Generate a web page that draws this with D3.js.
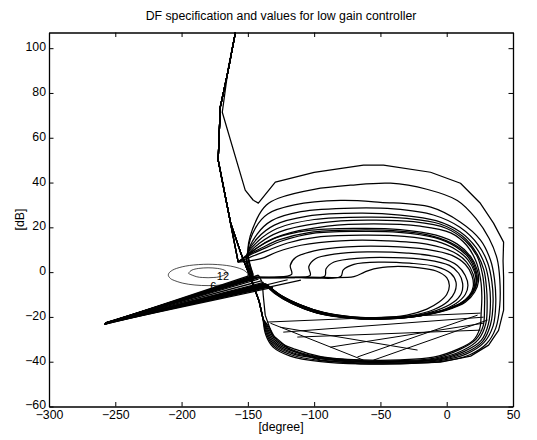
<!DOCTYPE html>
<html>
<head>
<meta charset="utf-8">
<script src="https://cdn.jsdelivr.net/npm/d3@7"></script>
<style>
  body { margin: 0; background: #fff; }
  text { font-family: "Liberation Sans", Arial, Helvetica, sans-serif; }
</style>
</head>
<body>
<div id="chart"></div>
<script>
// axis ticks
const xTicks = [-300, -250, -200, -150, -100, -50, 0, 50];
const yTicks = [-60, -40, -20, 0, 20, 40, 60, 80, 100];

// [phase deg, gain dB]
const entryTop = [[-159, 110], [-159.5, 106.7], [-164.8, 90.2], [-170.8, 73.7], [-172.4, 50]];
const entryOuter = [[-159, 110], [-159.5, 106.7], [-164.8, 91], [-169.3, 71.4], [-152, 36.6], [-145.9, 32.1]];
const entryJunction = [[-172.4, 50], [-157.3, 4.5]];
const entrySteep = [[-172.4, 50], [-163, 22], [-155, 8], [-147, -4], [-141.5, -13], [-138.5, -21]];

// outermost loop (reaches -41 dB, top ~48 dB)
const loopOuter = [[-145.9, 32.1], [-142.1, 30.8], [-129.3, 40.2], [-100, 44.5], [-62.8, 47.8], [-47.7, 47.8], [-12.2, 44.6],
  [10.4, 39.7], [25, 31], [35.3, 21.9], [42.9, 13.4], [42.5, 5], [42.9, -2.3], [42.9, -17], [39.1, -26],
  [31.6, -32.6], [18, -37.5], [-4.7, -40.2], [-34.9, -41], [-65.1, -41], [-95.3, -39.3], [-118, -34.8],
  [-131.6, -28], [-136.9, -19.2], [-138.4, -10.3], [-139.1, -4.5], [-142.1, -1.3]];

// lower loops (bottom near -40 dB)
const loopsLow = [
  [[-138.5, -21], [-136.5, -28], [-131, -33.5], [-118, -37.5], [-95, -40], [-65, -41], [-35, -40.8], [-5, -40], [17, -37], [30, -32],
   [37, -25], [40, -15], [40, -3], [38, 6], [32, 15], [22, 24], [8, 32], [-15, 37], [-42.4, 39.7], [-72.7, 38.8],
   [-100, 37], [-127, 33], [-136, 30], [-143, 24], [-150, 10], [-146, -1]],
  [[-138.5, -21], [-136, -27.5], [-130.5, -33], [-117, -37], [-95, -39.5], [-65, -40.5], [-35, -40.5], [-5, -39.5], [15, -36.5],
   [28, -31.5], [35, -24], [37, -14], [36, -3], [33, 5.4], [25.5, 14.3], [10.4, 22.3], [-12, 29], [-50, 31.2],
   [-80, 32], [-115, 30], [-135, 26], [-144, 20], [-150, 9], [-146, -1.5]],
  [[-138.5, -21], [-135.5, -27], [-130, -32.5], [-116, -36.5], [-95, -38.7], [-65, -40.2], [-35, -40.2], [-6, -39.2], [14, -36],
   [27, -31], [33, -23.5], [35, -13], [34, -4], [31, 4], [24, 12], [10, 20], [-10, 25.5], [-40, 28.2], [-70, 28.6],
   [-110, 27], [-132, 23], [-143, 17], [-150, 8], [-146, -2]],
  [[-138.5, -21], [-135, -26.5], [-129.5, -32], [-116, -36], [-95, -38.5], [-65, -40], [-35, -40], [-7, -39], [13, -35.5],
   [26, -30.5], [31.5, -23], [33, -13], [32, -5], [29, 3], [22, 11], [10, 18], [-8, 23], [-35, 25.5], [-65, 26.3],
   [-105, 25], [-130, 21], [-143, 15], [-151, 7], [-146, -2]],
  [[-138.5, -21], [-134.5, -26], [-129, -31.5], [-115, -35.5], [-95, -38.2], [-65, -39.8], [-35, -39.8], [-8, -38.7], [12, -35],
   [24, -30], [29.5, -23], [30.5, -14], [30, -7], [28, 1], [22, 9], [12, 16], [-5, 21.5], [-30, 24], [-60, 24.6],
   [-100, 23.5], [-128, 19.5], [-142, 14], [-151, 7], [-146, -2.5]],
  [[-138.5, -21], [-134, -25.5], [-128.5, -31], [-115, -35], [-95, -38], [-65, -39.5], [-35, -39.5], [-9, -38.4], [10, -34.5],
   [22, -30], [27.5, -24], [28.5, -16], [28.5, -9], [27, -1], [23, 7], [14, 14], [0, 19.5], [-25, 22.5], [-60, 23.2],
   [-95, 22], [-126, 18], [-141, 13], [-151, 6.5], [-146, -3]],
  [[-138.5, -21], [-133.5, -25], [-128, -30.5], [-114, -34.5], [-95, -37.7], [-65, -39.2], [-35, -39.2], [-10, -38], [8, -34.5],
   [20, -30.5], [25, -25], [26, -18], [26.5, -11], [25.5, -3], [22, 5], [15, 12], [3, 17.5], [-20, 20.5], [-55, 21.5],
   [-90, 20.5], [-124, 16.5], [-140, 12], [-151, 6], [-146, -3]]
];

// upper loops (bottom near -20 dB)
const loopsHigh = [
  [[-157.3, 4.5], [-150, 8], [-140, 12], [-128, 15.5], [-105, 18.5], [-70, 19.5], [-35, 19], [-8, 16.5], [8, 12.5], [18, 7], [23, 1],
   [24, -4], [21, -9], [14, -13.5], [0, -17], [-20, -19.5], [-45, -20.8], [-70, -20.5], [-92, -18.5], [-110, -15],
   [-124, -11], [-134, -6.5]],
  [[-157.3, 4.5], [-150, 7.5], [-139, 11], [-126, 14.5], [-103, 17.8], [-70, 18.8], [-38, 18.4], [-10, 16], [6, 12.2], [17, 7],
   [22, 1], [23, -4], [20, -9], [13, -13.3], [-1, -16.8], [-21, -19.3], [-46, -20.5], [-70, -20.2], [-92, -18.3],
   [-110, -14.8], [-124, -10.8], [-134, -6.3]],
  [[-157.3, 4.5], [-150, 7.2], [-138, 10.5], [-124, 14], [-101, 17.3], [-68, 18.2], [-36, 17.8], [-9, 15.4], [6.5, 11.5], [16.5, 6.5],
   [21.5, 0.5], [22.5, -4.5], [19.5, -9.2], [12.5, -13.4], [-1.5, -16.9], [-21.5, -19.4], [-46.5, -20.5],
   [-70.5, -20.1], [-92.5, -18.1], [-110.5, -14.6], [-124.5, -10.6], [-134.5, -6.3]],
  [[-157.3, 4.5], [-149, 6.5], [-136, 9.5], [-120, 13], [-95, 15.8], [-62, 16.5], [-32, 16], [-8, 13.8], [7, 10], [16, 5.5], [21, 0],
   [22, -5], [19, -9.5], [12, -13.5], [-2, -17], [-22, -19.5], [-47, -20.5], [-71, -20], [-93, -18], [-111, -14.5],
   [-125, -10.5], [-135, -6]],
  [[-157.3, 4.5], [-140, 6], [-128, 9], [-110, 12], [-80, 14], [-45, 14], [-15, 12.5], [5, 9], [15, 4.5], [20, -1], [21, -6],
   [18, -10], [10, -14], [-4, -17.3], [-24, -19.8], [-48, -20.7], [-72, -20.2], [-94, -18], [-112, -14.3],
   [-126, -10.2], [-135, -5.8]]
];

// inner hooked loops (start from the straight band)
const loopsInner = [
  [[-148, -2], [-130, -2.2], [-117, -1], [-118, 3], [-114, 6.5], [-100, 9.5], [-75, 11.3], [-45, 11.5], [-15, 10.2],
   [4, 7.5], [14, 3.5], [19, -1.5], [20, -6.5], [17, -10.5], [9, -14.5], [-5, -17.6], [-25, -20], [-50, -21],
   [-73, -20.5], [-95, -18.2], [-113, -14.2], [-127, -10], [-136, -5.5]],
  [[-148, -2.2], [-120, -2.5], [-103, -1.5], [-104, 2.5], [-99, 6], [-85, 8], [-60, 9], [-30, 8.5], [-5, 6.5], [8, 3],
   [14, -1.5], [16, -6], [14, -10], [7, -14], [-6, -17.5], [-26, -20], [-50, -21], [-74, -20.5], [-96, -18.5],
   [-114, -14.5], [-128, -10], [-136, -5.5]],
  [[-148, -2.4], [-115, -2.4], [-92, -1.8], [-91, 1.5], [-85, 4.5], [-65, 6.3], [-40, 6.5], [-15, 5.5], [2, 3],
   [9, -0.5], [12, -5], [11, -9.5], [5, -13.5], [-8, -17.2], [-27, -19.7], [-51, -20.8], [-75, -20.3], [-97, -18.3],
   [-115, -14.3], [-128, -9.8], [-137, -5.3]],
  [[-148, -2.5], [-110, -2.3], [-80, -2], [-78, 1], [-70, 3.5], [-50, 4.5], [-28, 4], [-8, 2.5], [3, -0.5], [7, -4.5],
   [6, -9], [1, -13], [-10, -16.8], [-28, -19.5], [-52, -20.6], [-76, -20.2], [-98, -18.2], [-116, -14.2],
   [-129, -9.6], [-137, -5.2]],
  [[-148, -2.6], [-105, -2.2], [-70, -2], [-62, 0], [-55, 1.5], [-40, 2.5], [-22, 2], [-8, 0.5], [0, -2.5], [2, -6],
   [0, -10], [-6, -13.5], [-15, -16.5], [-30, -19.2], [-53, -20.4], [-77, -20], [-99, -18], [-117, -14],
   [-130, -9.4], [-138, -5]]
];

// high-frequency ends of the curves
const bandEnds = [[-258, -23.2], [-257.6, -23], [-257.2, -22.8], [-256.8, -22.6], [-258.3, -23.3], [-257.8, -23.1],
  [-257.4, -22.9], [-257, -22.7], [-256.6, -22.5], [-258.1, -23.2], [-257.5, -22.9], [-257.1, -22.8],
  [-256.7, -22.6], [-258.2, -23.3], [-257.7, -23], [-257.3, -22.8], [-256.9, -22.6], [-256.5, -22.4]];

// further straight runs that fill the band
const bandExtra = [
  [[-258, -23.1], [-144, -2.3]], [[-257.6, -22.9], [-142, -3.1]], [[-257.2, -22.7], [-140, -3.9]],
  [[-256.8, -22.6], [-138, -4.6]], [[-257.9, -23], [-136, -5.2]], [[-257.3, -22.8], [-120, -3.4]],
  [[-256.9, -22.6], [-110, -3.6]], [[-257.5, -22.9], [-131, -6.8]], [[-257.1, -22.7], [-143, -2.7]]
];

// straight jumps across the lower loops
const chords = [
  [[-135.4, -22.3], [25.5, -18.3]], [[-133, -22.8], [-62.8, -39.3]], [[-123.3, -26.8], [27.8, -20.1]],
  [[-112.7, -29], [25.5, -25.9]], [[-87.8, -33.5], [27.8, -22.8]], [[-67.4, -37.9], [23.3, -19.2]],
  [[-125.5, -24.6], [-22, -34.8]], [[-55.3, -39.3], [30.8, -21.4]]
];

// closed-loop magnitude contours (6 dB and 12 dB)
const contour6 = [[-180, 3.52], [-194.06, 2.97], [-203.8, 1.66], [-208.6, 0.16], [-210, -1.25], [-209, -2.46],
  [-206.6, -3.47], [-199.1, -4.93], [-189.9, -5.76], [-180, -6.02], [-170.1, -5.76], [-160.9, -4.93],
  [-153.4, -3.47], [-151, -2.46], [-150, -1.25], [-151.4, 0.16], [-156.2, 1.66], [-165.94, 2.97]];
const contour12 = [[-180, 1.94], [-187.1, 1.66], [-192.12, 0.93], [-194.48, -0.28], [-194.04, -0.82],
  [-188.55, -2.07], [-184.4, -2.39], [-180, -2.5], [-175.6, -2.39], [-171.45, -2.07], [-165.96, -0.82],
  [-165.52, -0.28], [-167.88, 0.93], [-172.9, 1.66]];
const contourLabels = [{ text: "12", x: -168.8, y: -2.0 }, { text: "6", x: -176, y: -6.3 }];

function main() {
    const width = 537, height = 440;
    const margin = { top: 32.5, right: 24, bottom: 33.5, left: 49 };
    const fs = 12.3;

    const svg = d3.select("#chart").append("svg")
        .attr("width", width)
        .attr("height", height);

    const x = d3.scaleLinear().domain([-300, 50]).range([margin.left, width - margin.right]);
    const y = d3.scaleLinear().domain([-60, 107]).range([height - margin.bottom, margin.top]);

    svg.append("clipPath").attr("id", "plot")
        .append("rect")
        .attr("x", margin.left).attr("y", margin.top)
        .attr("width", x(50) - x(-300)).attr("height", y(-60) - y(107));

    const g = svg.append("g").attr("clip-path", "url(#plot)");

    const smooth = d3.line().x(d => x(d[0])).y(d => y(d[1])).curve(d3.curveCatmullRom.alpha(0.5));
    const straight = d3.line().x(d => x(d[0])).y(d => y(d[1]));
    const closed = d3.line().x(d => x(d[0])).y(d => y(d[1])).curve(d3.curveCardinalClosed);

    // contours
    [contour6, contour12].forEach(c => {
        g.append("path").attr("d", closed(c))
            .attr("fill", "none").attr("stroke", "#000").attr("stroke-width", 0.7);
    });

    // assemble the describing-function curves: straight entry, loop, straight exit
    const pieces = [];
    let k = 0;
    pieces.push(straight(entryOuter));
    pieces.push(straight(loopOuter));
    pieces.push(straight([loopOuter[loopOuter.length - 1], bandEnds[k++]]));
    loopsLow.forEach(l => {
        pieces.push(straight(entryTop.concat(entrySteep)));
        pieces.push(smooth(l));
        pieces.push(straight([l[l.length - 1], bandEnds[k++]]));
    });
    loopsHigh.forEach(l => {
        pieces.push(straight(entryTop.concat(entryJunction)));
        pieces.push(smooth(l));
        pieces.push(straight([l[l.length - 1], bandEnds[k++]]));
    });
    loopsInner.forEach(l => {
        pieces.push(straight([bandEnds[k], l[0]]));
        pieces.push(smooth(l));
        pieces.push(straight([l[l.length - 1], bandEnds[k++]]));
    });
    bandExtra.forEach(b => pieces.push(straight(b)));

    g.selectAll(".df").data(pieces).enter().append("path")
        .attr("class", "df")
        .attr("d", d => d)
        .attr("fill", "none").attr("stroke", "#000")
        .attr("stroke-width", 1.25).attr("stroke-linejoin", "round");

    g.selectAll(".chord").data(chords).enter().append("path")
        .attr("d", d => straight(d))
        .attr("fill", "none").attr("stroke", "#000").attr("stroke-width", 1);

    // contour labels on top
    g.selectAll(".clabel").data(contourLabels).enter().append("text")
        .attr("x", d => x(d.x)).attr("y", d => y(d.y))
        .attr("text-anchor", "middle").attr("dy", "0.35em")
        .attr("font-size", 11).text(d => d.text);

    // axes box with inward ticks on all sides
    const ax = svg.append("g");
    ax.append("g").attr("transform", `translate(0,${y(-60)})`)
        .call(d3.axisBottom(x).tickValues(xTicks).tickSizeInner(-4.5).tickSizeOuter(0).tickPadding(4));
    ax.append("g").attr("transform", `translate(0,${y(107)})`)
        .call(d3.axisTop(x).tickValues(xTicks).tickSizeInner(-4.5).tickSizeOuter(0).tickFormat(""));
    const yAxis = ax.append("g").attr("transform", `translate(${x(-300)},0)`)
        .call(d3.axisLeft(y).tickValues(yTicks).tickSizeInner(-4.5).tickSizeOuter(0).tickPadding(3));
    yAxis.selectAll("text").attr("dy", "0.2em");
    ax.append("g").attr("transform", `translate(${x(50)},0)`)
        .call(d3.axisRight(y).tickValues(yTicks).tickSizeInner(-4.5).tickSizeOuter(0).tickFormat(""));
    ax.selectAll("g").attr("font-family", null).attr("font-size", fs);
    ax.selectAll("text").attr("fill", "#000");
    ax.selectAll("path.domain").attr("stroke", "#000").attr("stroke-width", 1.3);

    svg.append("text").attr("x", (x(-300) + x(50)) / 2).attr("y", 20)
        .attr("text-anchor", "middle").attr("font-size", fs)
        .text("DF specification and values for low gain controller");
    svg.append("text").attr("x", (x(-300) + x(50)) / 2).attr("y", 431)
        .attr("text-anchor", "middle").attr("font-size", fs).text("[degree]");
    svg.append("text").attr("transform", `translate(24,${(y(-60) + y(107)) / 2}) rotate(-90)`)
        .attr("text-anchor", "middle").attr("font-size", fs).text("[dB]");
}

main();
</script>
</body>
</html>
